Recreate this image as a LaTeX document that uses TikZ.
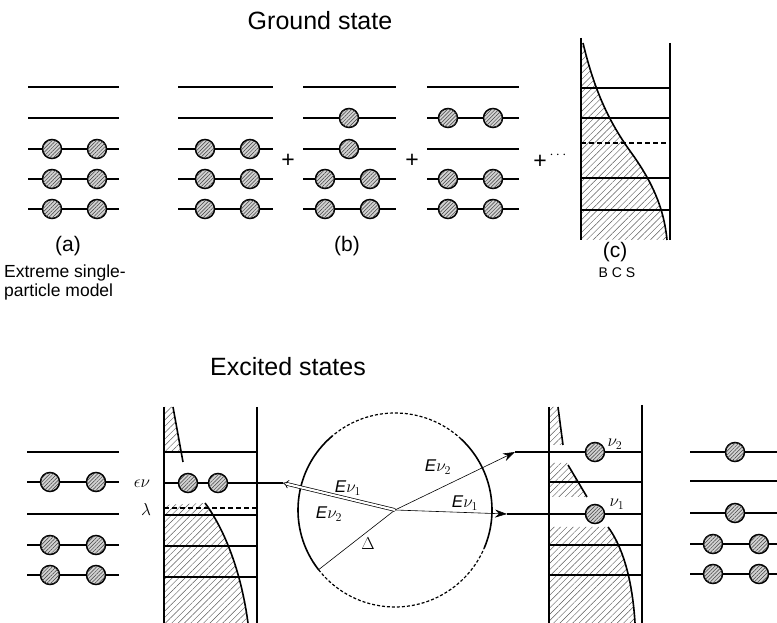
\documentclass[tikz,border=0pt]{standalone}
\usepackage{fontspec}
\setmainfont{Liberation Sans}
\usetikzlibrary{arrows.meta,patterns.meta,calc}
\begin{document}
\begin{tikzpicture}[x=1pt,y=1pt,
  lev/.style={line width=1.7pt},
  dlev/.style={line width=1.5pt,dash pattern=on 5pt off 3pt},
  wall/.style={line width=1.3pt},
  bound/.style={line width=1.6pt},
  hatch/.style={pattern={Lines[angle=45,distance=4.5pt,line width=0.45pt]},pattern color=black!65},
  particle/.style={circle,draw,line width=1.5pt,minimum size=19pt,inner sep=0pt,fill=gray!35,
    postaction={pattern={Lines[angle=45,distance=2.6pt,line width=0.5pt]},pattern color=black!75}},
  title/.style={font=\fontsize{25}{30}\selectfont,inner sep=0pt},
  lbl/.style={font=\fontsize{21}{24}\selectfont,inner sep=0pt},
  small/.style={font=\fontsize{17.5}{19}\selectfont,inner sep=0pt,align=left},
  plus/.style={font=\fontsize{23}{25}\selectfont,inner sep=0pt},
  tiny/.style={font=\fontsize{14}{16}\selectfont,inner sep=0pt},
  elbl/.style={font=\fontsize{17}{19}\selectfont,inner sep=0pt},
  ray/.style={line width=0.6pt}
]
\useasboundingbox (0,0) rectangle (777,623);

% ---------------- titles ----------------
\node[title] (gs) at (320,602) {Ground state};
\node[title] (es) at (288,256) {Excited states};

% ---------------- (a) ----------------
\foreach \y in {536,505} \draw[lev] (28,\y) -- (119,\y);
\foreach \y [count=\i] in {474,444,414} {
  \draw[lev] (28,\y) -- (119,\y);
  \node[particle] (a\i l) at (52,\y) {};
  \node[particle] (a\i r) at (97,\y) {};
}
\node[lbl] (la) at (68,377) {(a)};
\node[small,anchor=north west] (esp) at (4,358) {Extreme single-\\particle model};

% ---------------- (b) group 1 ----------------
\foreach \y in {536,505} \draw[lev] (178,\y) -- (273,\y);
\foreach \y [count=\i] in {474,444,414} {
  \draw[lev] (178,\y) -- (273,\y);
  \node[particle] (ba\i l) at (205,\y) {};
  \node[particle] (ba\i r) at (250,\y) {};
}
% group 2
\foreach \y in {536,505,474,444,414} \draw[lev] (303,\y) -- (396,\y);
\node[particle] (bb1) at (349,505) {};
\node[particle] (bb2) at (349,474) {};
\foreach \y [count=\i] in {444,414} {
  \node[particle] (bb\i l) at (325,\y) {};
  \node[particle] (bb\i r) at (370,\y) {};
}
% group 3
\foreach \y in {536,505,474,444,414} \draw[lev] (427,\y) -- (519,\y);
\foreach \y [count=\i] in {505,444,414} {
  \node[particle] (bc\i l) at (448,\y) {};
  \node[particle] (bc\i r) at (493,\y) {};
}
\node[lbl] (lb) at (347,377) {(b)};
\node[plus] (p1) at (288,462) {+};
\node[plus] (p2) at (412,462) {+};
\node[plus] (p3) at (540,461) {+};
\node[tiny] (dots) at (558,468) {$\cdots$};

% ---------------- (c) BCS ----------------
\path[hatch] (581,580) -- (583,580) .. controls (595,530) and (610,500) .. (630,472) .. controls (652,442) and (664,415) .. (667,383) -- (581,383) -- cycle;
\foreach \y in {535,505,445,413} \draw[lev] (581,\y) -- (670,\y);
\draw[dlev] (581,480) -- (670,480);
\draw[wall] (581,585) -- (581,383);
\draw[wall] (670,580) -- (670,383);
\draw[bound] (583,580) .. controls (595,530) and (610,500) .. (630,472) .. controls (652,442) and (664,415) .. (667,383);
\node[lbl] (lc) at (615,371) {(c)};
\node[tiny] (bcs) at (617,350) {B C S};

% ---------------- excited: left-most ----------------
\foreach \y in {171,109} \draw[lev] (27,\y) -- (119,\y);
\foreach \y [count=\i] in {141,78,48} {
  \draw[lev] (27,\y) -- (119,\y);
  \node[particle] (e\i l) at (50,\y) {};
  \node[particle] (e\i r) at (96,\y) {};
}
\node[elbl] (eps) at (142,139) {$\epsilon\nu$};
\node[elbl] (lam) at (146,113) {$\lambda$};

% ---------------- excited: left panel ----------------
\path[hatch] (164,216) -- (173,216) -- (181,171) -- (164,171) -- cycle;
\path[hatch] (164,118) -- (205,120) .. controls (220,100) and (240,60) .. (248,0) -- (164,0) -- cycle;
\draw[bound] (173,216) -- (183,161);
\draw[bound] (205,120) .. controls (220,100) and (240,60) .. (248,0);
\foreach \y in {171,108,77,46} \draw[lev] (164,\y) -- (257,\y);
\draw[dlev] (164,115) -- (257,115);
\draw[wall] (164,216) -- (164,0);
\draw[wall] (257,216) -- (257,0);
\coordinate (tipL) at (283,140);
\draw[lev] (164,140) -- (tipL);
\node[particle] (g1) at (188,140) {};
\node[particle] (g2) at (218,140) {};

% ---------------- circle ----------------
\coordinate (ctr) at (395,113);
\node[circle,minimum size=194pt,inner sep=0pt] (ring) at (ctr) {};
\draw[line width=1.6pt] ($(ctr)+(130:97)$) arc[start angle=130,end angle=218,radius=97];
\draw[line width=1.6pt] ($(ctr)+(-23:97)$) arc[start angle=-23,end angle=47,radius=97];
\draw[line width=1.2pt,dash pattern=on 3pt off 2pt] ($(ctr)+(218:97)$) arc[start angle=218,end angle=337,radius=97];
\draw[line width=1.2pt,dash pattern=on 3pt off 2pt] ($(ctr)+(47:97)$) arc[start angle=47,end angle=130,radius=97];
\coordinate (rimD) at ($(ctr)+(218:97)$);
\draw[ray] (ctr) -- (rimD);
\draw[double,double distance=2.2pt,line width=0.7pt,-{Implies[length=8pt,width=12pt]}] (ctr) -- (tipL);
\coordinate (tipUR) at (515,171);
\coordinate (tipR) at (507,109);
\draw[ray,-{Stealth[length=12pt,width=8pt]}] (ctr) -- (tipUR);
\draw[ray,-{Stealth[length=12pt,width=8pt]}] (ctr) -- (tipR);
\node[elbl] (l1) at (348,135) {\textit{E}$\nu_1$};
\node[elbl] (l2) at (329,109) {\textit{E}$\nu_2$};
\node[elbl] (l3) at (438,156) {\textit{E}$\nu_2$};
\node[elbl] (l4) at (465,120) {\textit{E}$\nu_1$};
\node[elbl] (ld) at (368,79) {$\Delta$};

% ---------------- excited: right panel ----------------
\path[hatch] (549,216) -- (558,216) -- (563,178) -- (549,178) -- cycle;
\path[hatch] (549,160) -- (567,160) -- (587,126) -- (549,126) -- cycle;
\path[hatch] (549,96) -- (608,96) .. controls (620,80) and (632,50) .. (635,0) -- (549,0) -- cycle;
\draw[bound] (558,216) -- (563,178);
\draw[bound] (568,158) -- (587,126);
\draw[bound] (608,96) .. controls (620,80) and (632,50) .. (635,0);
\draw[lev] (tipUR) -- (642,171);
\draw[lev] (tipR) -- (642,109);
\foreach \y in {141,78,48} \draw[lev] (549,\y) -- (642,\y);
\draw[wall] (549,216) -- (549,0);
\draw[wall] (642,218) -- (642,0);
\node[particle] (h1) at (595,171) {};
\node[particle] (h2) at (595,109) {};
\node[elbl] (n2) at (615,179) {$\nu_2$};
\node[elbl] (n1) at (617,119) {$\nu_1$};

% ---------------- excited: right-most ----------------
\foreach \y in {171,142,110,79,49} \draw[lev] (690,\y) -- (777,\y);
\node[particle] (k1) at (735,171) {};
\node[particle] (k2) at (735,110) {};
\foreach \y [count=\i] in {79,49} {
  \node[particle] (k\i l) at (713,\y) {};
  \node[particle] (k\i r) at (759,\y) {};
}
\end{tikzpicture}
\end{document}
